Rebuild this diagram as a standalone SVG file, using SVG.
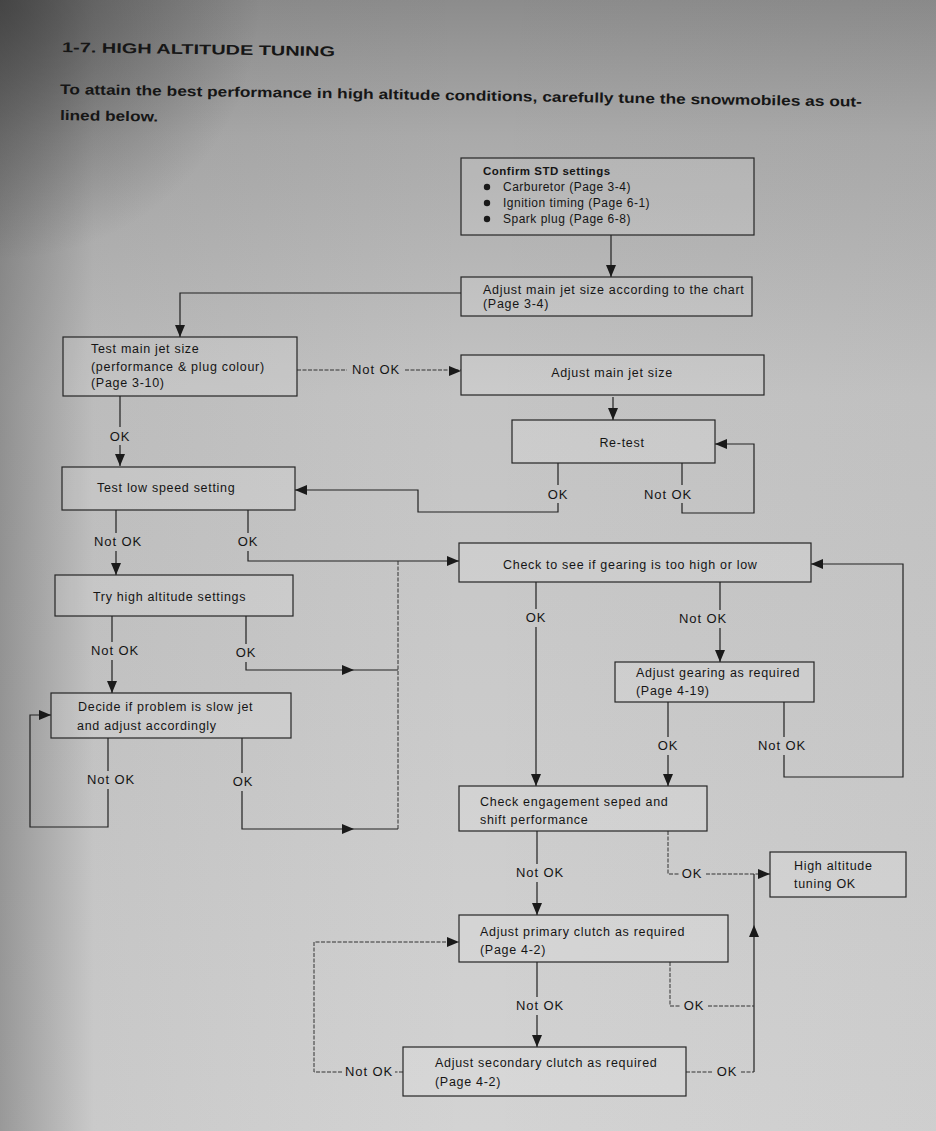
<svg xmlns="http://www.w3.org/2000/svg" xmlns:xlink="http://www.w3.org/1999/xlink" width="936" height="1131" viewBox="0 0 936 1131">
<defs>
<linearGradient id="bgv" x1="0" y1="0" x2="0" y2="1">
<stop offset="0" stop-color="#8c8c8c"/>
<stop offset="0.12" stop-color="#aaaaaa"/>
<stop offset="0.35" stop-color="#c4c4c4"/>
<stop offset="1" stop-color="#d3d3d3"/>
</linearGradient>
<linearGradient id="bgh" x1="0" y1="0" x2="1" y2="0">
<stop offset="0" stop-color="#3a3a3a" stop-opacity="0.38"/>
<stop offset="0.1" stop-color="#3a3a3a" stop-opacity="0.06"/>
<stop offset="0.5" stop-color="#3a3a3a" stop-opacity="0"/>
<stop offset="1" stop-color="#3a3a3a" stop-opacity="0.03"/>
</linearGradient>
<radialGradient id="corner" cx="0" cy="0" r="260" gradientUnits="userSpaceOnUse">
<stop offset="0" stop-color="#2a2a2a" stop-opacity="0.6"/>
<stop offset="1" stop-color="#2a2a2a" stop-opacity="0"/>
</radialGradient>
<path id="ah" d="M0,0 L-12,-5 L-12,5 Z"/>
<style>
.box{fill:#ffffff;fill-opacity:0.12;stroke:#262626;stroke-width:1.2}
.t{font-family:"Liberation Sans",Arial,sans-serif;font-size:12.5px;letter-spacing:0.7px;fill:#151515}
.lb{font-family:"Liberation Sans",Arial,sans-serif;font-size:13px;fill:#151515;text-anchor:middle;letter-spacing:0.9px}
.c{fill:none;stroke:#222222;stroke-width:1.2}
.d{fill:none;stroke:#333333;stroke-width:1;stroke-dasharray:4 1.5}
.a{fill:#1a1a1a}
.hd{font-family:"Liberation Sans",Arial,sans-serif;font-weight:bold;fill:#161616}
</style>
</defs>
<rect x="0" y="0" width="936" height="1131" fill="url(#bgv)"/>
<rect x="0" y="0" width="936" height="1131" fill="url(#bgh)"/>
<rect x="0" y="0" width="936" height="1131" fill="url(#corner)"/>

<g id="header">
<text class="hd" x="62" y="52" font-size="14" textLength="273" lengthAdjust="spacingAndGlyphs" transform="rotate(0.9 62 52)">1-7. HIGH ALTITUDE TUNING</text>
<text class="hd" x="60" y="94" font-size="14" textLength="802" lengthAdjust="spacingAndGlyphs" transform="rotate(0.9 60 94)">To attain the best performance in high altitude conditions, carefully tune the snowmobiles as out-</text>
<text class="hd" x="60" y="120" font-size="14" textLength="98" lengthAdjust="spacingAndGlyphs" transform="rotate(0.9 60 120)">lined below.</text>
</g>

<g id="connectors">
<path class="c" d="M611,235 V277"/><use xlink:href="#ah" class="a" transform="translate(611,277) rotate(90)"/>
<path class="c" d="M461,293 H180 V337"/><use xlink:href="#ah" class="a" transform="translate(180,337) rotate(90)"/>
<path class="d" d="M297,370 H347 M405,370 H461"/><use xlink:href="#ah" class="a" transform="translate(461,371)"/>
<path class="c" d="M120,396 V427 M120,445 V466"/><use xlink:href="#ah" class="a" transform="translate(120,466) rotate(90)"/>
<path class="c" d="M613,397 V420"/><use xlink:href="#ah" class="a" transform="translate(613,420) rotate(90)"/>
<path class="c" d="M558,463 V485 M558,503 V512 H418 V490 H295"/><use xlink:href="#ah" class="a" transform="translate(295,490) rotate(180)"/>
<path class="c" d="M682,463 V485 M682,503 V513 H754 V444 H715"/><use xlink:href="#ah" class="a" transform="translate(715,444) rotate(180)"/>
<path class="c" d="M116,510 V533 M116,551 V575"/><use xlink:href="#ah" class="a" transform="translate(116,575) rotate(90)"/>
<path class="c" d="M248,510 V533 M248,551 V561 H459"/><use xlink:href="#ah" class="a" transform="translate(459,561)"/>
<path class="d" d="M398,561 V830"/>
<path class="c" d="M112,616 V642 M112,660 V693"/><use xlink:href="#ah" class="a" transform="translate(112,693) rotate(90)"/>
<path class="c" d="M246,616 V644 M246,662 V670 H398"/><use xlink:href="#ah" class="a" transform="translate(354,670)"/>
<path class="c" d="M108,738 V771 M108,789 V827 H30 V715 H51"/><use xlink:href="#ah" class="a" transform="translate(51,715)"/>
<path class="c" d="M242,738 V773 M242,791 V829 H398"/><use xlink:href="#ah" class="a" transform="translate(354,829)"/>
<path class="c" d="M536,582 V609 M536,627 V786"/><use xlink:href="#ah" class="a" transform="translate(536,786) rotate(90)"/>
<path class="c" d="M720,582 V610 M720,628 V662"/><use xlink:href="#ah" class="a" transform="translate(720,662) rotate(90)"/>
<path class="c" d="M668,702 V737 M668,755 V786"/><use xlink:href="#ah" class="a" transform="translate(668,786) rotate(90)"/>
<path class="c" d="M784,702 V737 M784,755 V777 H903 V564 H811"/><use xlink:href="#ah" class="a" transform="translate(811,564) rotate(180)"/>
<path class="c" d="M537,831 V864 M537,882 V915"/><use xlink:href="#ah" class="a" transform="translate(537,915) rotate(90)"/>
<path class="d" d="M668,831 V874 H679 M706,874 H770"/><use xlink:href="#ah" class="a" transform="translate(770,874)"/>
<path class="c" d="M754,1072 V874"/><use xlink:href="#ah" class="a" transform="translate(754,925) rotate(-90)"/>
<path class="d" d="M670,962 V1006 H680 M708,1006 H754"/>
<path class="c" d="M537,962 V997 M537,1015 V1047"/><use xlink:href="#ah" class="a" transform="translate(537,1047) rotate(90)"/>
<path class="d" d="M686,1072 H713 M741,1072 H754"/>
<path class="d" d="M403,1072 H395 M342,1072 H314 V942 H459"/><use xlink:href="#ah" class="a" transform="translate(459,942)"/>
<text class="lb" x="376" y="374">Not OK</text>
<text class="lb" x="120" y="441">OK</text>
<text class="lb" x="558" y="499">OK</text>
<text class="lb" x="668" y="499">Not OK</text>
<text class="lb" x="118" y="546">Not OK</text>
<text class="lb" x="248" y="546">OK</text>
<text class="lb" x="115" y="655">Not OK</text>
<text class="lb" x="246" y="657">OK</text>
<text class="lb" x="111" y="784">Not OK</text>
<text class="lb" x="243" y="786">OK</text>
<text class="lb" x="536" y="622">OK</text>
<text class="lb" x="703" y="623">Not OK</text>
<text class="lb" x="668" y="750">OK</text>
<text class="lb" x="782" y="750">Not OK</text>
<text class="lb" x="540" y="877">Not OK</text>
<text class="lb" x="692" y="878">OK</text>
<text class="lb" x="540" y="1010">Not OK</text>
<text class="lb" x="694" y="1010">OK</text>
<text class="lb" x="727" y="1076">OK</text>
<text class="lb" x="369" y="1076">Not OK</text>
</g>

<g id="n1">
<rect class="box" x="461" y="158" width="293" height="77"/>
<text class="t" x="483" y="175" font-weight="bold" style="font-size:11.5px;letter-spacing:0.5px">Confirm STD settings</text>
<circle cx="487" cy="187" r="3.2" class="a"/>
<circle cx="487" cy="203" r="3.2" class="a"/>
<circle cx="487" cy="219" r="3.2" class="a"/>
<text class="t" x="503" y="191" style="font-size:12px;letter-spacing:0.5px">Carburetor (Page 3-4)</text>
<text class="t" x="503" y="207" style="font-size:12px;letter-spacing:0.5px">Ignition timing (Page 6-1)</text>
<text class="t" x="503" y="223" style="font-size:12px;letter-spacing:0.5px">Spark plug (Page 6-8)</text>
</g>
<g id="n2">
<rect class="box" x="461" y="277" width="291" height="39"/>
<text class="t" x="483" y="294">Adjust main jet size according to the chart</text>
<text class="t" x="483" y="308">(Page 3-4)</text>
</g>
<g id="n3">
<rect class="box" x="63" y="337" width="234" height="59"/>
<text class="t" x="91" y="353">Test main jet size</text>
<text class="t" x="91" y="371">(performance &amp; plug colour)</text>
<text class="t" x="91" y="387">(Page 3-10)</text>
</g>
<g id="n4">
<rect class="box" x="461" y="355" width="303" height="40"/>
<text class="t" x="612" y="377" text-anchor="middle">Adjust main jet size</text>
</g>
<g id="n5">
<rect class="box" x="512" y="420" width="203" height="43"/>
<text class="t" x="622" y="447" text-anchor="middle">Re-test</text>
</g>
<g id="n6">
<rect class="box" x="62" y="467" width="233" height="43"/>
<text class="t" x="97" y="492">Test low speed setting</text>
</g>
<g id="n7">
<rect class="box" x="55" y="575" width="238" height="41"/>
<text class="t" x="93" y="601">Try high altitude settings</text>
</g>
<g id="n8">
<rect class="box" x="51" y="693" width="240" height="45"/>
<text class="t" x="78" y="711">Decide if problem is slow jet</text>
<text class="t" x="77" y="730">and adjust accordingly</text>
</g>
<g id="n9">
<rect class="box" x="459" y="543" width="352" height="39"/>
<text class="t" x="503" y="569">Check to see if gearing is too high or low</text>
</g>
<g id="n10">
<rect class="box" x="615" y="662" width="199" height="40"/>
<text class="t" x="636" y="677">Adjust gearing as required</text>
<text class="t" x="636" y="695">(Page 4-19)</text>
</g>
<g id="n11">
<rect class="box" x="459" y="786" width="248" height="45"/>
<text class="t" x="480" y="806">Check engagement seped and</text>
<text class="t" x="480" y="824">shift performance</text>
</g>
<g id="n12">
<rect class="box" x="770" y="852" width="136" height="45"/>
<text class="t" x="794" y="870">High altitude</text>
<text class="t" x="794" y="888">tuning OK</text>
</g>
<g id="n13">
<rect class="box" x="459" y="915" width="269" height="47"/>
<text class="t" x="480" y="936">Adjust primary clutch as required</text>
<text class="t" x="480" y="954">(Page 4-2)</text>
</g>
<g id="n14">
<rect class="box" x="403" y="1047" width="283" height="49"/>
<text class="t" x="435" y="1067">Adjust secondary clutch as required</text>
<text class="t" x="435" y="1086">(Page 4-2)</text>
</g>
</svg>
